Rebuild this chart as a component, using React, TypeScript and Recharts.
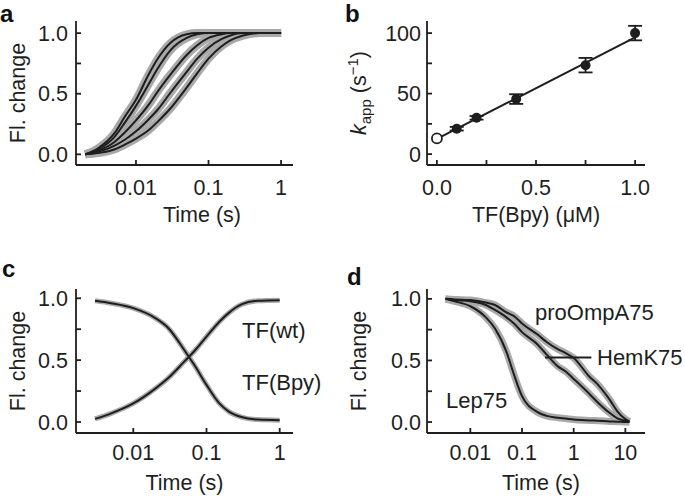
import React from 'react';
import {
  LineChart, ComposedChart, Line, Scatter, ErrorBar, XAxis, YAxis, Label, ReferenceLine,
} from 'recharts';

// ---- panel a: association traces at increasing TF(Bpy) ----
const timeA = [0.002, 0.003, 0.005, 0.007, 0.01, 0.015, 0.02, 0.03, 0.05, 0.07, 0.1, 0.15, 0.2, 0.3, 0.5, 1];
const traceA1 = [0, 0.05, 0.17, 0.31, 0.45, 0.66, 0.79, 0.92, 0.99, 1, 1, 1, 1, 1, 1, 1];
const traceA2 = [0, 0.04, 0.14, 0.26, 0.4, 0.58, 0.71, 0.86, 0.96, 0.99, 1, 1, 1, 1, 1, 1];
const traceA3 = [0, 0.03, 0.1, 0.18, 0.28, 0.41, 0.52, 0.66, 0.82, 0.9, 0.96, 0.99, 1, 1, 1, 1];
const traceA4 = [0, 0.02, 0.07, 0.12, 0.19, 0.29, 0.37, 0.51, 0.68, 0.79, 0.88, 0.95, 0.98, 1, 1, 1];
const traceA5 = [0, 0.01, 0.04, 0.08, 0.13, 0.2, 0.27, 0.38, 0.55, 0.67, 0.79, 0.89, 0.94, 0.98, 1, 1];

// ---- panel b: kapp vs TF(Bpy) ----
const concB = [0.1, 0.2, 0.4, 0.75, 1.0];
const kappB = [21, 30, 45.5, 73.5, 100];
const errB = [1.5, 1.5, 4, 6, 6];
const concB0 = [0];
const kappB0 = [13];
const errB0 = [1.5];
const fitX = [0, 1];
const fitY = [12.5, 96.5];

// ---- panel c: TF(wt) vs TF(Bpy) ----
const timeC = [0.003, 0.005, 0.01, 0.02, 0.03, 0.05, 0.07, 0.1, 0.15, 0.2, 0.3, 0.5, 1];
const riseC = [0.025, 0.07, 0.15, 0.27, 0.355, 0.49, 0.58, 0.69, 0.81, 0.88, 0.95, 0.98, 0.985];
const fallC = [0.98, 0.96, 0.92, 0.84, 0.76, 0.58, 0.45, 0.3, 0.15, 0.086, 0.04, 0.02, 0.015];

// ---- panel d: substrates ----
const timeD = [0.0033, 0.005, 0.01, 0.02, 0.03, 0.05, 0.07, 0.1, 0.2, 0.3, 0.5, 0.7, 1, 2, 3, 5, 7, 10, 12];
const lep75 = [1, 0.98, 0.94, 0.85, 0.76, 0.57, 0.385, 0.21, 0.08, 0.05, 0.035, 0.028, 0.02, 0.013, 0.01, 0.005, 0.003, 0, 0];
const hemK75 = [1, 0.99, 0.98, 0.95, 0.91, 0.85, 0.8, 0.73, 0.63, 0.547, 0.45, 0.41, 0.35, 0.23, 0.155, 0.073, 0.03, 0.01, 0];
const proOmpA75 = [1, 0.995, 0.99, 0.97, 0.95, 0.89, 0.86, 0.8, 0.71, 0.65, 0.59, 0.56, 0.52, 0.37, 0.3, 0.18, 0.087, 0.024, 0.005];

const fracTicks = [0, 0.25, 0.5, 0.75, 1];
const fracLabels: Record<number, string> = { 0: '0.0', 0.5: '0.5', 1: '1.0' };
const kTicks = [0, 25, 50, 75, 100];
const kLabels: Record<number, string> = { 0: '0', 50: '50', 100: '100' };

const tableA = timeA.map((t, i) => ({ t, a1: traceA1[i], a2: traceA2[i], a3: traceA3[i], a4: traceA4[i], a5: traceA5[i] }));
const tableC = timeC.map((t, i) => ({ t, rise: riseC[i], fall: fallC[i] }));
const tableD = timeD.map((t, i) => ({ t, lep: lep75[i], hem: hemK75[i], pro: proOmpA75[i] }));
const pointsB = concB.map((x, i) => ({ x, y: kappB[i], err: errB[i] }));
const pointsB0 = concB0.map((x, i) => ({ x, y: kappB0[i], err: errB0[i] }));
const fitB = fitX.map((x, i) => ({ x, y: fitY[i] }));

const FONT = '"Liberation Sans", Arial, Helvetica, sans-serif';
const INK = '#1e1e1e';
const GREY = '#a9a9a9';
const FS = 21.5;
const axisStroke = { stroke: INK, strokeWidth: 1.8 };
const tickFont = { fontSize: FS, fill: INK, fontFamily: FONT };

const fmtLog = (v: number) => String(v);
const fmtFrac = (v: number) => fracLabels[v] ?? '';
const fmtK = (v: number) => kLabels[v] ?? '';

const xTitle = (text: React.ReactNode, dx: number) => (props: any) => {
  const { x, y, width } = props.viewBox;
  return (
    <text x={x + width / 2 + dx} y={y + 57} textAnchor="middle" fontSize={FS} fill={INK} fontFamily={FONT}>
      {text}
    </text>
  );
};

const yTitle = (text: React.ReactNode, bx: number) => (props: any) => {
  const { y, height } = props.viewBox;
  const cy = y + height / 2;
  return (
    <text x={bx} y={cy} textAnchor="middle" fontSize={FS} fill={INK} fontFamily={FONT} transform={`rotate(-90, ${bx}, ${cy})`}>
      {text}
    </text>
  );
};

const kappTitle = (
  <>
    <tspan fontStyle="italic">k</tspan>
    <tspan fontSize={15} dy={5}>app</tspan>
    <tspan dy={-5}> (s</tspan>
    <tspan fontSize={15} dy={-8}>−1</tspan>
    <tspan dy={8}>)</tspan>
  </>
);

const PanelA = () => (
  <LineChart width={342} height={250} data={tableA} margin={{ top: 21, right: 49, bottom: 25, left: 0 }}>
    <XAxis dataKey="t" type="number" scale="log" domain={[0.00149, 1.46]} allowDataOverflow ticks={[0.01, 0.1, 1]}
      interval={0} tickFormatter={fmtLog} height={60} tickSize={-5} tickMargin={20}
      axisLine={axisStroke} tickLine={axisStroke} tick={tickFont}>
      <Label content={xTitle('Time (s)', 17.5)} />
    </XAxis>
    <YAxis type="number" domain={[-0.088, 1.1]} allowDataOverflow ticks={fracTicks} interval={0} tickFormatter={fmtFrac}
      width={76} tickSize={-5} tickMargin={13} axisLine={axisStroke} tickLine={axisStroke} tick={tickFont}>
      <Label content={yTitle('Fl. change', 25)} />
    </YAxis>
    {['a1', 'a2', 'a3', 'a4', 'a5'].map((k) => (
      <Line key={'g' + k} dataKey={k} type="monotone" stroke={GREY} strokeWidth={8} dot={false} isAnimationActive={false} />
    ))}
    {['a1', 'a2', 'a3', 'a4', 'a5'].map((k) => (
      <Line key={k} dataKey={k} type="monotone" stroke={INK} strokeWidth={2} dot={false} isAnimationActive={false} />
    ))}
  </LineChart>
);

const PanelB = () => (
  <ComposedChart width={343} height={250} margin={{ top: 21, right: 40, bottom: 25, left: 0 }}>
    <XAxis dataKey="x" type="number" domain={[-0.05, 1.05]} allowDataOverflow ticks={fracTicks} interval={0}
      tickFormatter={fmtFrac} height={60} tickSize={-5} tickMargin={20}
      axisLine={axisStroke} tickLine={axisStroke} tick={tickFont}>
      <Label content={xTitle('TF(Bpy) (μM)', 0)} />
    </XAxis>
    <YAxis type="number" domain={[-9, 110]} allowDataOverflow ticks={kTicks} interval={0} tickFormatter={fmtK}
      width={85} tickSize={-5} tickMargin={11} axisLine={axisStroke} tickLine={axisStroke} tick={tickFont}>
      <Label content={yTitle(kappTitle, 24)} />
    </YAxis>
    <Line data={fitB} dataKey="y" type="linear" stroke={INK} strokeWidth={2} dot={false} isAnimationActive={false} />
    <Scatter data={pointsB} dataKey="y" isAnimationActive={false}
      shape={(p: any) => <circle cx={p.cx} cy={p.cy} r={5} fill={INK} />}>
      <ErrorBar dataKey="err" direction="y" width={7} stroke={INK} strokeWidth={1.8} />
    </Scatter>
    <Scatter data={pointsB0} dataKey="y" isAnimationActive={false}
      shape={(p: any) => <circle cx={p.cx} cy={p.cy} r={5} fill="#fff" stroke={INK} strokeWidth={1.8} />} />
  </ComposedChart>
);

const PanelC = () => (
  <LineChart width={342} height={249} data={tableC} margin={{ top: 39, right: 49, bottom: 6, left: 0 }}>
    <XAxis dataKey="t" type="number" scale="log" domain={[0.00165, 1.52]} allowDataOverflow ticks={[0.01, 0.1, 1]}
      interval={0} tickFormatter={fmtLog} height={60} tickSize={-5} tickMargin={17}
      axisLine={axisStroke} tickLine={axisStroke} tick={tickFont}>
      <Label content={xTitle('Time (s)', 0)} />
    </XAxis>
    <YAxis type="number" domain={[-0.089, 1.075]} allowDataOverflow ticks={fracTicks} interval={0} tickFormatter={fmtFrac}
      width={76} tickSize={-5} tickMargin={13} axisLine={axisStroke} tickLine={axisStroke} tick={tickFont}>
      <Label content={yTitle('Fl. change', 25)} />
    </YAxis>
    {['rise', 'fall'].map((k) => (
      <Line key={'g' + k} dataKey={k} type="monotone" stroke={GREY} strokeWidth={5} dot={false} isAnimationActive={false} />
    ))}
    {['rise', 'fall'].map((k) => (
      <Line key={k} dataKey={k} type="monotone" stroke={INK} strokeWidth={2} dot={false} isAnimationActive={false} />
    ))}
  </LineChart>
);

const PanelD = () => (
  <LineChart width={343} height={249} data={tableD} margin={{ top: 39, right: 40, bottom: 6, left: 0 }}>
    <XAxis dataKey="t" type="number" scale="log" domain={[0.00145, 24]} allowDataOverflow ticks={[0.01, 0.1, 1, 10]}
      interval={0} tickFormatter={fmtLog} height={60} tickSize={-5} tickMargin={17}
      axisLine={axisStroke} tickLine={axisStroke} tick={tickFont}>
      <Label content={xTitle('Time (s)', 5)} />
    </XAxis>
    <YAxis type="number" domain={[-0.089, 1.08]} allowDataOverflow ticks={fracTicks} interval={0} tickFormatter={fmtFrac}
      width={85} tickSize={-5} tickMargin={11} axisLine={axisStroke} tickLine={axisStroke} tick={tickFont}>
      <Label content={yTitle('Fl. change', 24)} />
    </YAxis>
    {['lep', 'hem', 'pro'].map((k) => (
      <Line key={'g' + k} dataKey={k} type="monotone" stroke={GREY} strokeWidth={7} dot={false} isAnimationActive={false} />
    ))}
    {['lep', 'hem', 'pro'].map((k) => (
      <Line key={k} dataKey={k} type="monotone" stroke={INK} strokeWidth={2} dot={false} isAnimationActive={false} />
    ))}
    <ReferenceLine segment={[{ x: 0.28, y: 0.523 }, { x: 2.2, y: 0.523 }]} stroke={INK} strokeWidth={2} />
  </LineChart>
);

const letter = { fontSize: 24, fontWeight: 700, fill: '#111', fontFamily: FONT };
const note = { fontSize: 22, fill: INK, fontFamily: FONT };

export default function App() {
  return (
    <div style={{ position: 'absolute', left: 0, top: 0, width: 685, height: 499, background: '#fff', overflow: 'hidden' }}>
      <div style={{ position: 'absolute', left: 0, top: 0 }}><PanelA /></div>
      <div style={{ position: 'absolute', left: 342, top: 0 }}><PanelB /></div>
      <div style={{ position: 'absolute', left: 0, top: 250 }}><PanelC /></div>
      <div style={{ position: 'absolute', left: 342, top: 250 }}><PanelD /></div>
      <svg width={685} height={499} style={{ position: 'absolute', left: 0, top: 0, pointerEvents: 'none' }}>
        <text x={0} y={22} {...letter}>a</text>
        <text x={345} y={22} {...letter}>b</text>
        <text x={2} y={277} {...letter}>c</text>
        <text x={347} y={285} {...letter}>d</text>
        <text x={242} y={338} {...note}>TF(wt)</text>
        <text x={242} y={390} {...note}>TF(Bpy)</text>
        <text x={535} y={320} {...note}>proOmpA75</text>
        <text x={597} y={365} {...note}>HemK75</text>
        <text x={446} y={408} {...note}>Lep75</text>
      </svg>
    </div>
  );
}
